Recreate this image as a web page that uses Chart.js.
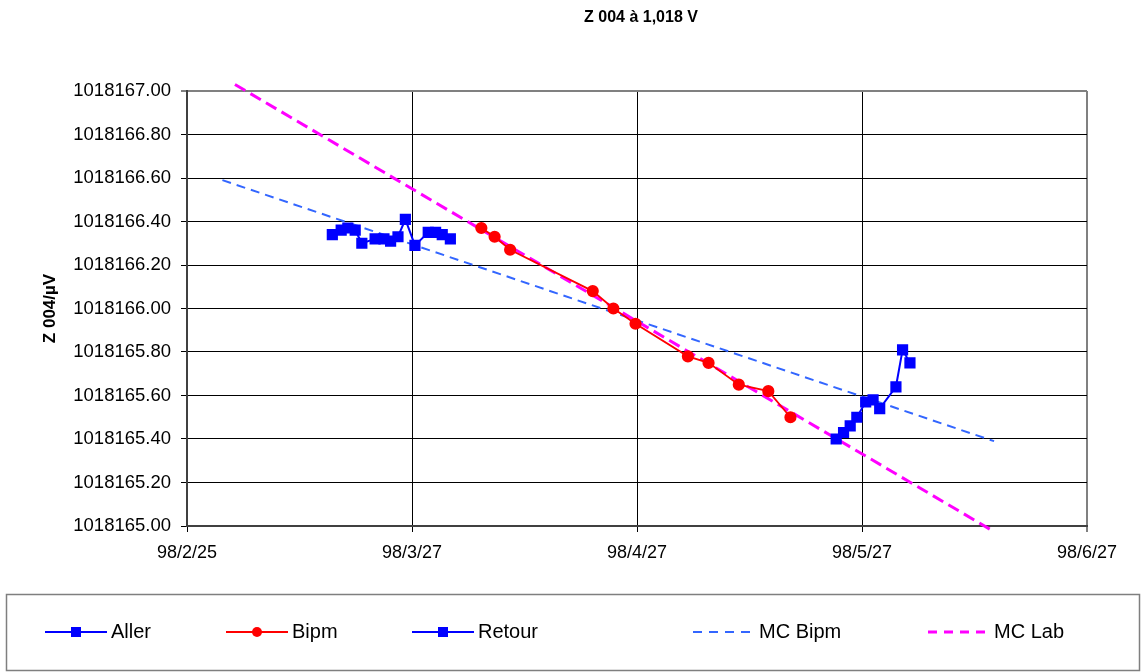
<!DOCTYPE html>
<html>
<head>
<meta charset="utf-8">
<script src="https://cdn.jsdelivr.net/npm/chart.js@4.4.1/dist/chart.umd.min.js"></script>
<style>
  html, body { margin: 0; padding: 0; background: #fff; }
  #wrap { width: 1147px; height: 672px; position: relative; }
</style>
</head>
<body>
<div id="wrap"><canvas id="c" width="1147" height="672"></canvas></div>
<script>
// x values are days counted from 98/2/25
const tickDays = [0, 30.5, 61, 91.5, 122];
const tickLabels = ['98/2/25', '98/3/27', '98/4/27', '98/5/27', '98/6/27'];
const yTickValues = [1018165.0, 1018165.2, 1018165.4, 1018165.6, 1018165.8, 1018166.0,
                     1018166.2, 1018166.4, 1018166.6, 1018166.8, 1018167.0];

const allerDays = [19.7, 20.9, 21.8, 22.8, 23.7, 25.5, 26.7, 27.6, 28.6, 29.6, 30.9, 32.7, 33.7, 34.6, 35.7];
const allerValues = [1018166.34, 1018166.36, 1018166.37, 1018166.36, 1018166.30, 1018166.32, 1018166.32,
                     1018166.31, 1018166.33, 1018166.41, 1018166.29, 1018166.35, 1018166.35, 1018166.34, 1018166.32];

const bipmDays = [39.9, 41.7, 43.8, 55.0, 57.8, 60.8, 67.9, 70.7, 74.8, 78.8, 81.8];
const bipmValues = [1018166.37, 1018166.33, 1018166.27, 1018166.08, 1018166.00, 1018165.93,
                    1018165.78, 1018165.75, 1018165.65, 1018165.62, 1018165.50];

const retourDays = [88.0, 89.0, 89.9, 90.8, 92.0, 93.0, 93.9, 96.1, 97.0, 98.0];
const retourValues = [1018165.40, 1018165.43, 1018165.46, 1018165.50, 1018165.57,
                      1018165.58, 1018165.54, 1018165.64, 1018165.81, 1018165.75];

const mcBipmDays = [4.8, 109.4];
const mcBipmValues = [1018166.59, 1018165.39];

const mcLabDays = [6.5, 109.1];
const mcLabValues = [1018167.03, 1018164.98];

const FONT = "'Liberation Sans', Arial, sans-serif";
const pts = (xs, ys) => xs.map((x, i) => ({ x: x, y: ys[i] }));

const datasets = [
  { label: 'Aller', data: pts(allerDays, allerValues), borderColor: '#0000FF', backgroundColor: '#0000FF',
    borderWidth: 2, pointStyle: 'rect', pointRadius: 6.5, order: 3 },
  { label: 'Bipm', data: pts(bipmDays, bipmValues), borderColor: '#FF0000', backgroundColor: '#FF0000',
    borderWidth: 1.8, pointStyle: 'circle', pointRadius: 5.2, order: 1 },
  { label: 'Retour', data: pts(retourDays, retourValues), borderColor: '#0000FF', backgroundColor: '#0000FF',
    borderWidth: 2, pointStyle: 'rect', pointRadius: 6.5, order: 2 },
  { label: 'MC Bipm', data: pts(mcBipmDays, mcBipmValues), borderColor: '#3366FF', backgroundColor: '#3366FF',
    borderWidth: 2, borderDash: [9, 6], pointRadius: 0, order: 5, clip: false },
  { label: 'MC Lab', data: pts(mcLabDays, mcLabValues), borderColor: '#FF00FF', backgroundColor: '#FF00FF',
    borderWidth: 3, borderDash: [12, 6], pointRadius: 0, order: 4, clip: false }
];

// Chart heading, centred over the plot
const heading = {
  id: 'heading',
  afterDraw(chart) {
    const ctx = chart.ctx;
    ctx.save();
    ctx.font = "bold 16px " + FONT;
    ctx.fillStyle = '#000';
    ctx.textAlign = 'center';
    ctx.textBaseline = 'middle';
    ctx.fillText('Z 004 à 1,018 V', 641, 18);
    ctx.restore();
  }
};

// Boxed legend under the plot, one entry per dataset
const boxedLegend = {
  id: 'boxedLegend',
  afterDraw(chart) {
    const ctx = chart.ctx;
    const starts = [45, 226, 412, 693, 928];
    const y = 632;
    ctx.save();
    ctx.strokeStyle = '#7f7f7f';
    ctx.lineWidth = 1.5;
    ctx.strokeRect(6.5, 594.5, 1133, 76);
    chart.data.datasets.forEach((ds, i) => {
      const x0 = starts[i], x1 = x0 + 62;
      ctx.save();
      ctx.strokeStyle = ds.borderColor;
      ctx.lineWidth = ds.borderDash ? ds.borderWidth : 1.8;
      ctx.setLineDash(ds.borderDash ? [9, 7] : []);
      ctx.beginPath();
      ctx.moveTo(x0, y);
      ctx.lineTo(x1, y);
      ctx.stroke();
      ctx.restore();
      if (ds.pointRadius > 0) {
        ctx.fillStyle = ds.backgroundColor;
        if (ds.pointStyle === 'rect') {
          ctx.fillRect((x0 + x1) / 2 - 5, y - 5, 10, 10);
        } else {
          ctx.beginPath();
          ctx.arc((x0 + x1) / 2, y, 5, 0, Math.PI * 2);
          ctx.fill();
        }
      }
      ctx.fillStyle = '#000';
      ctx.font = "20px " + FONT;
      ctx.textAlign = 'left';
      ctx.textBaseline = 'middle';
      ctx.fillText(ds.label, x1 + 4, y);
    });
    ctx.restore();
  }
};

new Chart(document.getElementById('c'), {
  type: 'line',
  data: { datasets: datasets },
  plugins: [heading, boxedLegend],
  options: {
    responsive: false,
    animation: false,
    events: [],
    layout: { padding: { top: 91, right: 60, bottom: 90, left: 0 } },
    plugins: { legend: { display: false }, tooltip: { enabled: false }, title: { display: false } },
    elements: { line: { tension: 0 } },
    scales: {
      x: {
        type: 'linear',
        min: 0,
        max: 122,
        afterBuildTicks: s => { s.ticks = tickDays.map(v => ({ value: v })); },
        afterFit: s => { s.height = 56; },
        ticks: {
          callback: (v, i) => tickLabels[i],
          font: { size: 18, family: FONT },
          color: '#000',
          padding: 10,
          maxRotation: 0,
          autoSkip: false
        },
        grid: {
          color: c => (c.tick && c.tick.value === 122) ? '#808080' : '#000',
          lineWidth: c => (c.tick && c.tick.value === 122) ? 2 : 1,
          tickLength: 6
        },
        border: { color: '#404040', width: 2 }
      },
      y: {
        min: 1018165,
        max: 1018167,
        afterBuildTicks: s => { s.ticks = yTickValues.map(v => ({ value: v })); },
        afterFit: s => { s.width = 187; },
        ticks: {
          callback: v => v.toFixed(2),
          font: { size: 18.5, family: FONT },
          color: '#000',
          padding: 10,
          autoSkip: false
        },
        grid: {
          color: c => (c.tick && c.tick.value === 1018167) ? '#808080' : '#000',
          lineWidth: c => (c.tick && c.tick.value === 1018167) ? 2 : 1,
          tickLength: 6
        },
        border: { color: '#404040', width: 2 },
        title: {
          display: true,
          text: 'Z 004/µV',
          color: '#000',
          font: { size: 17, weight: 'bold', family: FONT },
          padding: { top: 40, bottom: 0 }
        }
      }
    }
  }
});
</script>
</body>
</html>
